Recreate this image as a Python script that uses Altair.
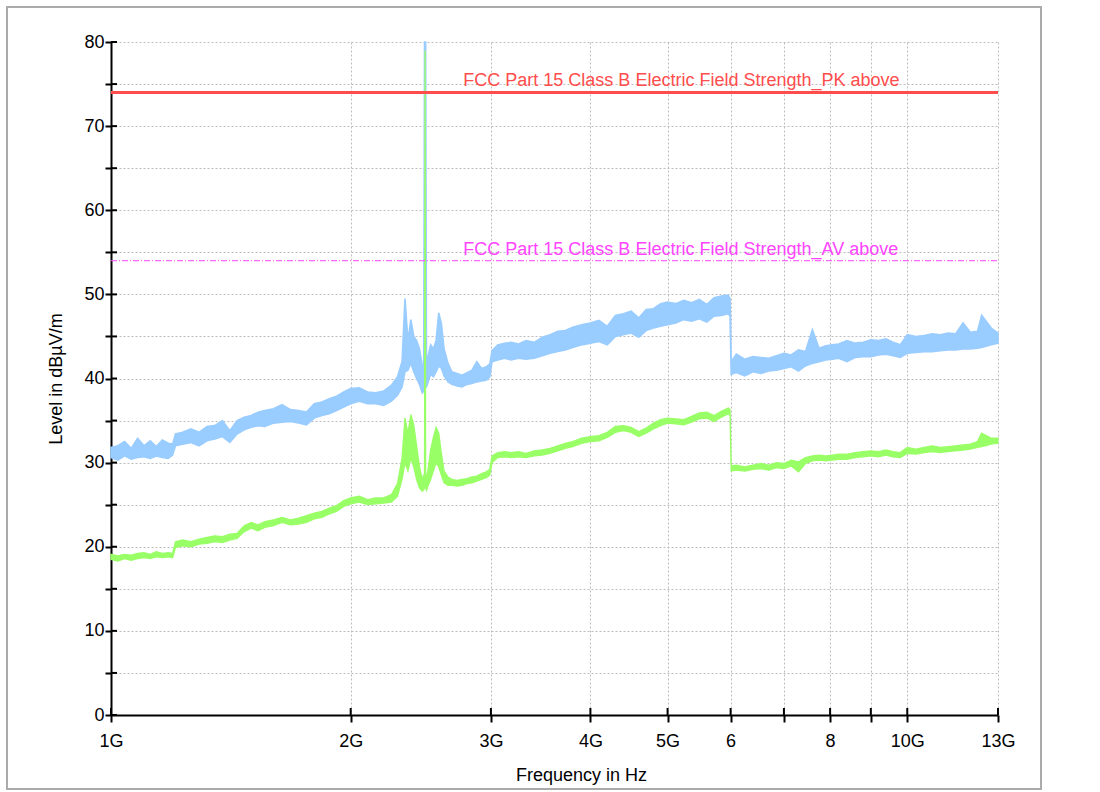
import altair as alt
import pandas as pd

# ---------------- data ----------------
freq_ghz = [
    1.00, 1.02, 1.04, 1.06, 1.08, 1.10, 1.12, 1.14, 1.16, 1.18,
    1.195, 1.205, 1.23, 1.26, 1.29, 1.32, 1.35, 1.38, 1.41, 1.44,
    1.47, 1.50, 1.53, 1.56, 1.60, 1.64, 1.68, 1.72, 1.76, 1.80,
    1.84, 1.88, 1.92, 1.96, 2.00, 2.05, 2.10, 2.15, 2.20, 2.25,
    2.29, 2.32, 2.34, 2.36, 2.38, 2.40, 2.42, 2.44, 2.46, 2.470,
    2.476, 2.480, 2.484, 2.490, 2.50, 2.52, 2.54, 2.56, 2.58, 2.60, 2.62, 2.65,
    2.68, 2.72, 2.76, 2.80, 2.84, 2.88, 2.92, 2.96, 2.99, 3.01,
    3.06, 3.12, 3.18, 3.25, 3.32, 3.40, 3.48, 3.56, 3.64, 3.72,
    3.80, 3.90, 4.00, 4.10, 4.20, 4.30, 4.40, 4.50, 4.60, 4.70,
    4.80, 4.90, 5.00, 5.12, 5.24, 5.36, 5.48, 5.60, 5.72, 5.84,
    5.96, 5.99, 6.01, 6.10, 6.25, 6.40, 6.55, 6.70, 6.85, 7.00,
    7.15, 7.30, 7.45, 7.60, 7.75, 7.90, 8.05, 8.20, 8.40, 8.60,
    8.80, 9.00, 9.20, 9.40, 9.60, 9.80, 10.00, 10.25, 10.50, 10.75,
    11.00, 11.25, 11.50, 11.75, 12.00, 12.25, 12.40, 12.75, 13.00,
]

# peak trace (light blue): lower and upper edge of the noisy band, dBuV/m
peak_lo = [
    30.6, 30.3, 30.8, 30.4, 30.6, 30.7, 30.5, 30.8, 30.6, 30.5,
    30.9, 32.0, 32.2, 32.4, 32.0, 32.6, 32.8, 33.1, 32.4, 33.4,
    33.9, 34.2, 34.4, 34.3, 34.7, 34.8, 34.9, 34.7, 34.5, 35.3,
    35.6, 35.8, 36.2, 36.6, 37.0, 37.3, 37.0, 37.0, 36.8, 37.3,
    38.0, 39.0, 40.8, 41.0, 41.8, 40.8, 40.0, 39.3, 38.3, 38.5,
    39.0, 39.0, 39.0, 39.0, 39.5, 40.5, 40.2, 40.8, 41.5, 41.2, 40.3, 39.6,
    39.3, 39.1, 39.0, 39.3, 39.4, 39.6, 39.7, 39.8, 40.2, 42.0,
    42.2, 42.4, 42.2, 42.4, 42.3, 42.4, 42.7, 43.0, 43.2, 43.4,
    43.7, 44.0, 44.2, 44.4, 44.0, 45.0, 45.2, 45.4, 44.9, 45.7,
    46.0, 46.2, 46.4, 46.6, 47.0, 46.8, 47.1, 46.7, 47.4, 47.5,
    47.7, 47.4, 40.5, 40.7, 40.3, 40.8, 40.6, 40.9, 41.0, 41.2,
    41.4, 40.9, 41.5, 41.8, 42.0, 42.2, 42.3, 42.4, 42.0, 42.5,
    42.6, 42.6, 42.8, 42.9, 42.7, 42.5, 43.0, 43.1, 43.2, 43.2,
    43.3, 43.4, 43.4, 43.5, 43.5, 43.6, 43.7, 44.0, 44.2,
]
peak_hi = [
    31.8, 32.0, 32.5, 31.7, 32.9, 32.0, 32.6, 31.9, 32.7, 32.3,
    32.2, 33.4, 33.6, 34.0, 33.6, 34.3, 34.4, 35.0, 33.8, 35.0,
    35.4, 35.6, 36.0, 36.2, 36.4, 36.9, 36.3, 36.2, 36.0, 37.0,
    37.2, 37.6, 37.9, 38.4, 38.8, 38.9, 38.4, 38.3, 38.5, 39.2,
    40.2, 42.0, 49.5, 44.5, 47.0, 45.0, 44.5, 43.5, 41.5, 40.5,
    80.0, 80.0, 80.0, 41.0, 42.5, 44.0, 43.5, 44.5, 47.8, 46.5, 43.5, 41.8,
    40.8, 40.6, 40.4, 40.7, 41.0, 42.0, 41.2, 41.4, 41.7, 43.3,
    44.0, 44.2, 44.3, 44.1, 44.5, 44.3, 44.9, 45.2, 45.6, 45.7,
    46.1, 46.4, 46.6, 46.9, 46.2, 47.5, 47.7, 48.0, 47.2, 48.2,
    48.3, 48.9, 49.1, 48.9, 49.3, 49.0, 49.4, 48.8, 49.6, 49.8,
    49.9, 49.5, 42.0, 42.9, 42.3, 42.6, 42.5, 42.4, 42.7, 43.0,
    42.8, 43.4, 43.2, 45.8, 43.6, 43.9, 44.0, 44.1, 44.5, 44.2,
    44.3, 44.6, 44.5, 44.7, 44.3, 44.0, 45.2, 45.0, 45.1, 45.3,
    45.2, 45.4, 45.3, 46.6, 45.5, 45.6, 47.5, 46.0, 45.4,
]

# average trace (light green): lower and upper edge of the band
avg_lo = [
    18.5, 18.3, 18.6, 18.4, 18.6, 18.7, 18.6, 18.8, 18.7, 18.8,
    18.7, 19.9, 20.1, 20.0, 20.3, 20.4, 20.6, 20.5, 20.8, 21.0,
    21.8, 22.2, 21.9, 22.3, 22.5, 22.9, 22.6, 22.7, 22.9, 23.3,
    23.5, 23.9, 24.2, 24.8, 25.1, 25.3, 25.0, 25.1, 25.2, 25.3,
    26.0, 28.0, 30.0, 29.0, 30.5, 29.5, 28.0, 27.0, 26.6, 26.8,
    27.0, 27.0, 27.0, 26.7, 27.2, 28.0, 29.0, 30.0, 29.5, 28.5, 27.6, 27.3,
    27.3, 27.2, 27.3, 27.5, 27.6, 27.8, 28.0, 28.2, 28.5, 30.0,
    30.6, 30.7, 30.6, 30.7, 30.6, 30.8, 30.9, 31.1, 31.4, 31.7,
    31.9, 32.3, 32.5, 32.6, 33.0, 33.6, 33.8, 33.6, 33.1, 33.5,
    34.0, 34.4, 34.7, 34.6, 34.5, 34.8, 35.2, 35.3, 34.9, 35.4,
    35.8, 35.6, 29.0, 29.1, 29.0, 29.2, 29.3, 29.1, 29.4, 29.3,
    29.6, 28.9, 29.9, 30.2, 30.3, 30.2, 30.3, 30.4, 30.4, 30.6,
    30.7, 30.8, 30.7, 30.9, 30.7, 30.6, 31.1, 31.0, 31.2, 31.3,
    31.2, 31.3, 31.4, 31.5, 31.6, 31.8, 31.9, 32.2, 32.3,
]
avg_hi = [
    19.1, 18.9, 19.1, 19.0, 19.2, 19.3, 19.1, 19.4, 19.2, 19.3,
    19.2, 20.6, 20.8, 20.6, 20.9, 21.1, 21.3, 21.2, 21.5, 21.6,
    22.5, 22.9, 22.6, 23.0, 23.2, 23.5, 23.2, 23.4, 23.7, 24.0,
    24.2, 24.6, 24.9, 25.5, 25.8, 26.0, 25.6, 25.8, 25.8, 26.2,
    27.5, 30.5, 35.3, 33.5, 35.7, 34.5, 32.0, 29.5, 28.0, 28.5,
    28.4, 79.0, 28.4, 28.3, 29.0, 31.5, 33.0, 34.2, 33.5, 31.0, 29.0, 28.3,
    28.0, 27.9, 28.0, 28.1, 28.3, 28.4, 28.7, 28.9, 29.2, 30.8,
    31.2, 31.3, 31.2, 31.3, 31.1, 31.4, 31.5, 31.7, 32.0, 32.3,
    32.5, 32.9, 33.1, 33.2, 33.6, 34.3, 34.4, 34.2, 33.7, 34.1,
    34.7, 35.1, 35.3, 35.2, 35.1, 35.5, 35.9, 36.0, 35.6, 36.1,
    36.5, 36.3, 29.6, 29.7, 29.5, 29.7, 29.9, 29.7, 30.0, 29.9,
    30.3, 30.1, 30.6, 30.8, 30.9, 30.8, 30.9, 31.0, 31.0, 31.2,
    31.3, 31.4, 31.3, 31.5, 31.3, 31.2, 31.8, 31.6, 31.8, 32.0,
    31.8, 31.9, 32.0, 32.1, 32.2, 32.5, 33.5, 32.9, 32.9,
]

limit_names = [
    "FCC Part 15 Class B Electric Field Strength_PK above",
    "FCC Part 15 Class B Electric Field Strength_AV above",
]
limit_levels = [74, 54]
limit_start = [1, 1]
limit_end = [13, 13]
limit_label_at = [2.77, 2.77]

x_tick_values = [1, 2, 3, 4, 5, 6, 7, 8, 9, 10, 13]
x_tick_labels = ["1G", "2G", "3G", "4G", "5G", "6", "", "8", "", "10G", "13G"]
y_tick_values = [0, 5, 10, 15, 20, 25, 30, 35, 40, 45, 50, 55, 60, 65, 70, 75, 80]
y_label_values = [0, 10, 20, 30, 40, 50, 60, 70, 80]

# ---------------- styling ----------------
PLOT_W = 887
PLOT_H = 673
FONT = "Liberation Sans"
BLUE = "#99CCFF"
GREEN = "#99FF66"
LIMIT_COLORS = ["#FF4D4D", "#FF44FF"]
LIMIT_WIDTHS = [3, 1]
LIMIT_DASH = [[1, 0], [6, 2, 1, 2]]
GRID = "#BDBDBD"

assert len(freq_ghz) == len(peak_lo) == len(peak_hi) == len(avg_lo) == len(avg_hi)

df = pd.DataFrame({"f": freq_ghz, "plo": peak_lo, "phi": peak_hi,
                   "alo": avg_lo, "ahi": avg_hi})

x_expr = " : ".join(
    f"datum.value == {v} ? '{l}'" for v, l in zip(x_tick_values, x_tick_labels)
) + " : ''"
y_expr = " : ".join(f"datum.value == {v} ? '{v}'" for v in y_label_values) + " : ''"

xs = alt.Scale(type="log", domain=[1, 13], nice=False)
ys = alt.Scale(domain=[0, 80], nice=False, zero=False)

axis_x = alt.Axis(
    values=x_tick_values, labelExpr=x_expr, title="Frequency in Hz",
    grid=True, gridDash=[2, 2], gridColor=GRID, gridWidth=1,
    domainColor="black", domainWidth=2, tickColor="black", tickWidth=2,
    tickSize=7, labelFontSize=18, labelColor="black", labelPadding=10,
    labelFlush=False, labelOverlap=False, titleFontSize=18,
    titleFontWeight="normal", titleColor="black", titlePadding=16,
    titleX=470, titleAlign="center",
)
axis_y = alt.Axis(
    values=y_tick_values, labelExpr=y_expr, title="Level in dBµV/m",
    grid=True, gridDash=[2, 2], gridColor=GRID, gridWidth=1,
    domainColor="black", domainWidth=2, tickColor="black", tickWidth=2,
    tickSize=6, labelFontSize=18, labelColor="black", labelPadding=1,
    labelFlush=False, labelOverlap=False, titleFontSize=18,
    titleFontWeight="normal", titleColor="black", titlePadding=18,
)


def X(field):
    return alt.X(field, type="quantitative", scale=xs, axis=axis_x)


def Y(field):
    return alt.Y(field, type="quantitative", scale=ys, axis=axis_y)


peak = alt.Chart(df).mark_area(
    color=BLUE, opacity=1, stroke=BLUE, strokeWidth=1.6, interpolate="linear"
).encode(x=X("f"), y=Y("plo"), y2="phi:Q")

avg = alt.Chart(df).mark_area(
    color=GREEN, opacity=1, stroke=GREEN, strokeWidth=1.3, interpolate="linear"
).encode(x=X("f"), y=Y("alo"), y2="ahi:Q")

layers = [peak, avg]
for i in range(len(limit_names)):
    ldf = pd.DataFrame({"name": [limit_names[i]], "level": [limit_levels[i]],
                        "f": [limit_start[i]], "end": [limit_end[i]],
                        "lab": [limit_label_at[i]]})
    rule = alt.Chart(ldf).mark_rule(
        color=LIMIT_COLORS[i], strokeWidth=LIMIT_WIDTHS[i], strokeDash=LIMIT_DASH[i]
    ).encode(x=X("f"), x2="end:Q", y=Y("level"))
    txt = alt.Chart(ldf).mark_text(
        align="left", baseline="alphabetic", dy=-6, fontSize=18, font=FONT,
        color=LIMIT_COLORS[i],
    ).encode(x=X("lab"), y=Y("level"), text="name:N")
    layers += [rule, txt]

# inner halves of the axis ticks (ticks cross the axis lines)
ytick = alt.Chart(pd.DataFrame({"level": y_tick_values})).mark_rule(
    color="black", strokeWidth=2
).encode(y=Y("level"), x=alt.value(0), x2=alt.value(6))
xtick = alt.Chart(pd.DataFrame({"f": x_tick_values})).mark_rule(
    color="black", strokeWidth=2
).encode(x=X("f"), y=alt.value(PLOT_H - 7), y2=alt.value(PLOT_H))

# outer frame around the whole figure
frame = alt.Chart(pd.DataFrame({"a": [0]})).mark_rect(
    filled=False, stroke="#ABABAB", strokeWidth=2
).encode(x=alt.value(-104), x2=alt.value(930), y=alt.value(-35), y2=alt.value(747))

chart = alt.layer(*layers, ytick, xtick, frame).properties(
    width=PLOT_W, height=PLOT_H,
    padding={"left": 6, "top": 6, "right": 5, "bottom": 2},
    background="white",
).configure_view(strokeWidth=0).configure_axis(
    labelFont=FONT, titleFont=FONT
).configure_text(font=FONT)

chart.save("out.html", embed_options={"renderer": "svg", "actions": False})
